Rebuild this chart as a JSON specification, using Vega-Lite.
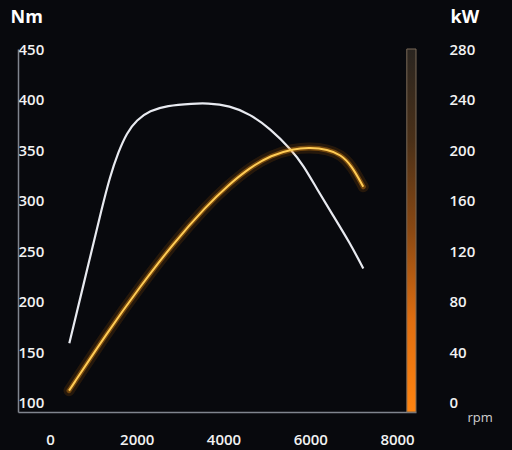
{
  "$schema": "https://vega.github.io/schema/vega-lite/v6.json",
  "width": 398,
  "height": 363,
  "autosize": {"type": "none"},
  "padding": {"left": 18, "top": 49, "right": 96, "bottom": 38},
  "background": "#08090d",
  "config": {
    "view": {"stroke": null},
    "axis": {"labelFont": "Open Sans", "labelFontWeight": 600, "labelFontSize": 15, "labelColor": "#f2f2f2", "grid": false, "ticks": false, "domainColor": "#80858e", "domainWidth": 1.5, "titleFont": "Open Sans", "titleColor": "#ffffff"}
  },
  "datasets": {
    "torque": [
      {"rpm": 445, "nm": 159},
      {"rpm": 930, "nm": 245},
      {"rpm": 1192, "nm": 292},
      {"rpm": 1383, "nm": 324},
      {"rpm": 1574, "nm": 348},
      {"rpm": 1768, "nm": 367},
      {"rpm": 1998, "nm": 380},
      {"rpm": 2305, "nm": 389},
      {"rpm": 2690, "nm": 394},
      {"rpm": 3303, "nm": 396},
      {"rpm": 3612, "nm": 396.5},
      {"rpm": 4149, "nm": 394},
      {"rpm": 4610, "nm": 385.5},
      {"rpm": 5071, "nm": 371.5},
      {"rpm": 5571, "nm": 350},
      {"rpm": 5839, "nm": 335},
      {"rpm": 6148, "nm": 312},
      {"rpm": 6530, "nm": 285},
      {"rpm": 6915, "nm": 258},
      {"rpm": 7222, "nm": 233}
    ],
    "power": [
      {"rpm": 438, "kw": 9.7},
      {"rpm": 1307, "kw": 55.1},
      {"rpm": 2075, "kw": 91.9},
      {"rpm": 2842, "kw": 126.2},
      {"rpm": 3612, "kw": 156},
      {"rpm": 4100, "kw": 172},
      {"rpm": 4600, "kw": 186},
      {"rpm": 5100, "kw": 196},
      {"rpm": 5600, "kw": 201},
      {"rpm": 6000, "kw": 202},
      {"rpm": 6400, "kw": 200.5},
      {"rpm": 6700, "kw": 196.5},
      {"rpm": 6950, "kw": 188},
      {"rpm": 7222, "kw": 171}
    ]
  },
  "layer": [
    {
      "layer": [
        {
          "data": {"values": [{}]},
          "mark": {"type": "rect", "fill": {"gradient": "linear", "x1": 0, "y1": 0, "x2": 0, "y2": 1, "stops": [{"offset": 0, "color": "#2a2520"}, {"offset": 0.25, "color": "#4a3018"}, {"offset": 0.5, "color": "#8a4812"}, {"offset": 0.75, "color": "#e06e10"}, {"offset": 1, "color": "#ff8410"}]}, "stroke": "#7a6a58", "strokeWidth": 1},
          "encoding": {
            "x": {"datum": 8225, "type": "quantitative", "scale": {"domain": [-738, 8437], "nice": false, "zero": false}},
            "x2": {"datum": 8437},
            "y": {"datum": 450, "type": "quantitative", "scale": {"domain": [91, 450], "nice": false, "zero": false}},
            "y2": {"datum": 91}
          }
        },
        {
          "data": {"name": "torque"},
          "mark": {"type": "line", "interpolate": "basis", "color": "#e8eaf0", "strokeWidth": 2.2},
          "encoding": {
            "x": {"field": "rpm", "type": "quantitative", "scale": {"domain": [-738, 8437], "nice": false, "zero": false},
              "axis": {"values": [0, 2000, 4000, 6000, 8000], "format": "d", "labelPadding": 20, "title": "rpm", "titleX": 449, "titleY": 5, "titleAlign": "left", "titleBaseline": "middle", "titleFontSize": 13, "titleFontWeight": 400, "titleColor": "#d0d0d0"}},
            "y": {"field": "nm", "type": "quantitative", "scale": {"domain": [91, 450], "nice": false, "zero": false},
              "axis": {"orient": "left", "values": [100, 150, 200, 250, 300, 350, 400, 450], "labelAlign": "left", "labelPadding": 0, "title": "Nm", "titleAngle": 0, "titleX": -8, "titleY": -32, "titleAlign": "left", "titleBaseline": "middle", "titleFontSize": 18, "titleFontWeight": 700}}
          }
        }
      ]
    },
    {
      "data": {"name": "power"},
      "layer": [
        {
          "mark": {"type": "line", "interpolate": "basis", "color": "#ff8a00", "strokeWidth": 11, "opacity": 0.12, "strokeCap": "round"},
          "encoding": {
            "x": {"field": "rpm", "type": "quantitative"},
            "y": {"field": "kw", "type": "quantitative", "scale": {"domain": [-7.2, 280], "nice": false, "zero": false},
              "axis": {"orient": "right", "values": [0, 40, 80, 120, 160, 200, 240, 280], "labelAlign": "left", "labelPadding": 33, "domain": false, "title": "kW", "titleAngle": 0, "titleX": 34, "titleY": -32, "titleAlign": "left", "titleBaseline": "middle", "titleFontSize": 18, "titleFontWeight": 700}}
          }
        },
        {
          "mark": {"type": "line", "interpolate": "basis", "color": "#ff9a10", "strokeWidth": 5, "opacity": 0.35, "strokeCap": "round"},
          "encoding": {
            "x": {"field": "rpm", "type": "quantitative"},
            "y": {"field": "kw", "type": "quantitative"}
          }
        },
        {
          "mark": {"type": "line", "interpolate": "basis", "color": "#ffcc55", "strokeWidth": 2},
          "encoding": {
            "x": {"field": "rpm", "type": "quantitative"},
            "y": {"field": "kw", "type": "quantitative"}
          }
        }
      ]
    }
  ],
  "resolve": {"scale": {"y": "independent"}}
}
